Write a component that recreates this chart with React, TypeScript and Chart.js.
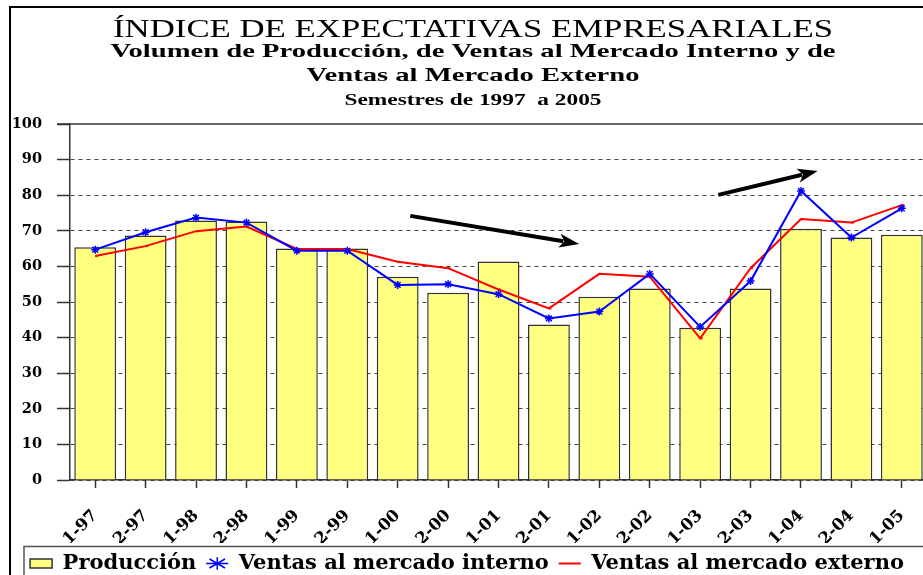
import React, { useEffect, useRef } from 'react';
import { Chart, registerables } from 'chart.js';

Chart.register(...registerables);

// ---------- data ----------
const categories = ['1-97', '2-97', '1-98', '2-98', '1-99', '2-99', '1-00', '2-00', '1-01', '2-01', '1-02', '2-02', '1-03', '2-03', '1-04', '2-04', '1-05'];
const produccion = [65.4, 68.7, 72.9, 72.6, 65.0, 65.0, 57.1, 52.6, 61.4, 43.7, 51.5, 53.8, 42.8, 53.8, 70.6, 68.1, 68.9];
const ventasInterno = [64.7, 69.6, 73.7, 72.3, 64.4, 64.4, 54.8, 55.0, 52.2, 45.4, 47.3, 57.9, 43.0, 55.9, 81.2, 68.1, 76.3];
const ventasExterno = [62.9, 65.7, 69.9, 71.2, 64.9, 64.9, 61.3, 59.5, 53.5, 48.2, 57.9, 57.1, 39.8, 59.5, 73.3, 72.3, 77.2];
const seriesLabels = ['Producción', 'Ventas al mercado interno', 'Ventas al mercado externo'];
const titleLines = [
  'ÍNDICE DE EXPECTATIVAS EMPRESARIALES',
  'Volumen de Producción, de Ventas al Mercado Interno y de',
  'Ventas al Mercado Externo',
  'Semestres de 1997  a 2005',
];
const yMin = 0;
const yMax = 100;
const yStep = 10;
// trend arrows in data coordinates: [categoryIndex, value]
const arrowFrom = [[6.25, 74.2], [12.36, 80.1]];
const arrowTo = [[9.6, 66.3], [14.33, 86.8]];

// ---------- styles ----------
const W = 934;
const H = 584;
const Y_TICK_FONT = { family: '"DejaVu Serif", serif', weight: 'bold' as const, size: 14.5 };
const X_TICK_FONT = { family: '"DejaVu Serif", serif', weight: 'bold' as const, size: 16.5 };
const titleStyle = [
  { size: 25, weight: 'normal', y: 37, width: 720 },
  { size: 19.5, weight: 'bold', y: 57, width: 725 },
  { size: 19.5, weight: 'bold', y: 81, width: 333 },
  { size: 16, weight: 'bold', y: 105, width: 257 },
];

const decorPlugin = {
  id: 'decor',
  beforeDraw(chart: any) {
    const { ctx } = chart;
    ctx.save();
    ctx.fillStyle = '#ffffff';
    ctx.fillRect(0, 0, chart.width, chart.height);
    // outer frame (left & top)
    ctx.fillStyle = '#000';
    ctx.fillRect(9, 6, 2, chart.height);
    ctx.fillRect(9, 6, chart.width, 2);
    // titles
    ctx.textAlign = 'center';
    ctx.textBaseline = 'alphabetic';
    titleLines.forEach((t, i) => {
      const s = titleStyle[i];
      ctx.font = `${s.weight} ${s.size}px "Liberation Serif", "Times New Roman", serif`;
      const m = ctx.measureText(t).width;
      ctx.save();
      ctx.translate(473, s.y);
      ctx.scale(s.width / m, 1);
      ctx.fillStyle = '#000';
      ctx.fillText(t, 0, 0);
      ctx.restore();
    });
    // legend frame
    const lg = chart.legend;
    if (lg) {
      ctx.strokeStyle = '#555';
      ctx.lineWidth = 1.5;
      ctx.strokeRect(24, lg.top + 3.5, 940, 60);
    }
    ctx.restore();
  },
  beforeDatasetsDraw(chart: any) {
    const { ctx, chartArea } = chart;
    ctx.save();
    ctx.strokeStyle = '#333';
    ctx.lineWidth = 1.5;
    ctx.beginPath();
    ctx.moveTo(chartArea.left - 13, chartArea.top);
    ctx.lineTo(chartArea.right, chartArea.top);
    ctx.stroke();
    ctx.restore();
  },
  afterDatasetsDraw(chart: any) {
    const { ctx } = chart;
    const xs = chart.scales.x;
    const ys = chart.scales.y;
    ctx.save();
    ctx.fillStyle = '#000';
    ctx.strokeStyle = '#000';
    arrowFrom.forEach((f, i) => {
      const t = arrowTo[i];
      const x1 = xs.getPixelForValue(f[0]);
      const y1 = ys.getPixelForValue(f[1]);
      const x2 = xs.getPixelForValue(t[0]);
      const y2 = ys.getPixelForValue(t[1]);
      const ang = Math.atan2(y2 - y1, x2 - x1);
      const hl = 20;
      const hw = 7;
      const bx = x2 - hl * Math.cos(ang);
      const by = y2 - hl * Math.sin(ang);
      ctx.lineWidth = 4;
      ctx.beginPath();
      ctx.moveTo(x1, y1);
      ctx.lineTo(bx + 4 * Math.cos(ang), by + 4 * Math.sin(ang));
      ctx.stroke();
      ctx.beginPath();
      ctx.moveTo(x2, y2);
      ctx.lineTo(bx + hw * Math.sin(ang), by - hw * Math.cos(ang));
      ctx.lineTo(bx + 5 * Math.cos(ang), by + 5 * Math.sin(ang));
      ctx.lineTo(bx - hw * Math.sin(ang), by + hw * Math.cos(ang));
      ctx.closePath();
      ctx.fill();
    });
    ctx.restore();
  },
};

export default function App() {
  const ref = useRef<HTMLCanvasElement | null>(null);

  useEffect(() => {
    if (!ref.current) return;
    const legendStyles = ['rect', 'star', 'line'];
    const chart = new Chart(ref.current, {
      type: 'bar',
      data: {
        labels: categories,
        datasets: [
          {
            type: 'bar',
            label: seriesLabels[0],
            data: produccion,
            backgroundColor: '#FFFF80',
            borderColor: '#333333',
            borderWidth: 1.5,
            barPercentage: 0.83,
            categoryPercentage: 1,
            order: 3,
          } as any,
          {
            type: 'line',
            label: seriesLabels[1],
            data: ventasInterno,
            borderColor: '#0000FF',
            backgroundColor: '#0000FF',
            borderWidth: 2,
            tension: 0,
            pointStyle: 'star',
            pointRadius: 4,
            pointBorderWidth: 1.5,
            pointBorderColor: '#0000FF',
            order: 1,
          } as any,
          {
            type: 'line',
            label: seriesLabels[2],
            data: ventasExterno,
            borderColor: '#FF0000',
            backgroundColor: '#FF0000',
            borderWidth: 2,
            tension: 0,
            pointStyle: 'dash',
            pointRadius: 2.5,
            pointBorderWidth: 2,
            pointBorderColor: '#FF0000',
            order: 2,
          } as any,
        ],
      },
      options: {
        responsive: false,
        animation: false,
        devicePixelRatio: 1,
        layout: { padding: { top: 124, left: 0, right: 0, bottom: 0 } },
        plugins: {
          title: { display: false },
          tooltip: { enabled: false },
          legend: {
            position: 'bottom',
            labels: {
              font: { family: '"DejaVu Serif", serif', weight: 'bold', size: 21 },
              color: '#000',
              usePointStyle: true,
              pointStyleWidth: 22,
              boxHeight: 9,
              padding: 10,
              sort: (a: any, b: any) => a.datasetIndex - b.datasetIndex,
              generateLabels: (c: any) => {
                const items = (Chart.defaults.plugins.legend.labels as any).generateLabels(c);
                items.forEach((it: any) => {
                  it.pointStyle = legendStyles[it.datasetIndex];
                  if (it.datasetIndex === 0) it.lineWidth = 1.5;
                });
                return items;
              },
            },
          },
        },
        scales: {
          x: {
            offset: true,
            grid: {
              display: true,
              drawOnChartArea: false,
              drawTicks: true,
              tickLength: 8,
              offset: false,
              tickColor: '#333',
              tickWidth: 1.5,
            },
            border: { display: true, color: '#333', width: 1.5 },
            ticks: {
              font: X_TICK_FONT,
              color: '#000',
              minRotation: 45,
              maxRotation: 45,
              padding: 18,
              autoSkip: false,
            },
            afterFit: (s: any) => {
              s.height = 63;
            },
          },
          y: {
            min: yMin,
            max: yMax,
            grid: {
              color: (c: any) => (c.tick && c.tick.value === yMax ? 'rgba(0,0,0,0)' : '#444'),
              lineWidth: 1,
              drawTicks: true,
              tickLength: 13,
              tickColor: '#333',
              tickWidth: 1.5,
              tickBorderDash: [],
            },
            border: { display: true, color: '#333', width: 1.5, dash: [4, 4] },
            ticks: {
              stepSize: yStep,
              font: Y_TICK_FONT,
              color: '#000',
              padding: 15,
            },
            afterFit: (s: any) => {
              s.width = 70;
            },
          },
        },
      } as any,
      plugins: [decorPlugin],
    });
    return () => chart.destroy();
  }, []);

  return (
    <div
      style={{
        position: 'fixed',
        left: 0,
        top: 0,
        width: 923,
        height: 575,
        overflow: 'hidden',
        background: '#fff',
      }}
    >
      <canvas ref={ref} width={W} height={H} style={{ width: W, height: H, display: 'block' }} />
    </div>
  );
}
